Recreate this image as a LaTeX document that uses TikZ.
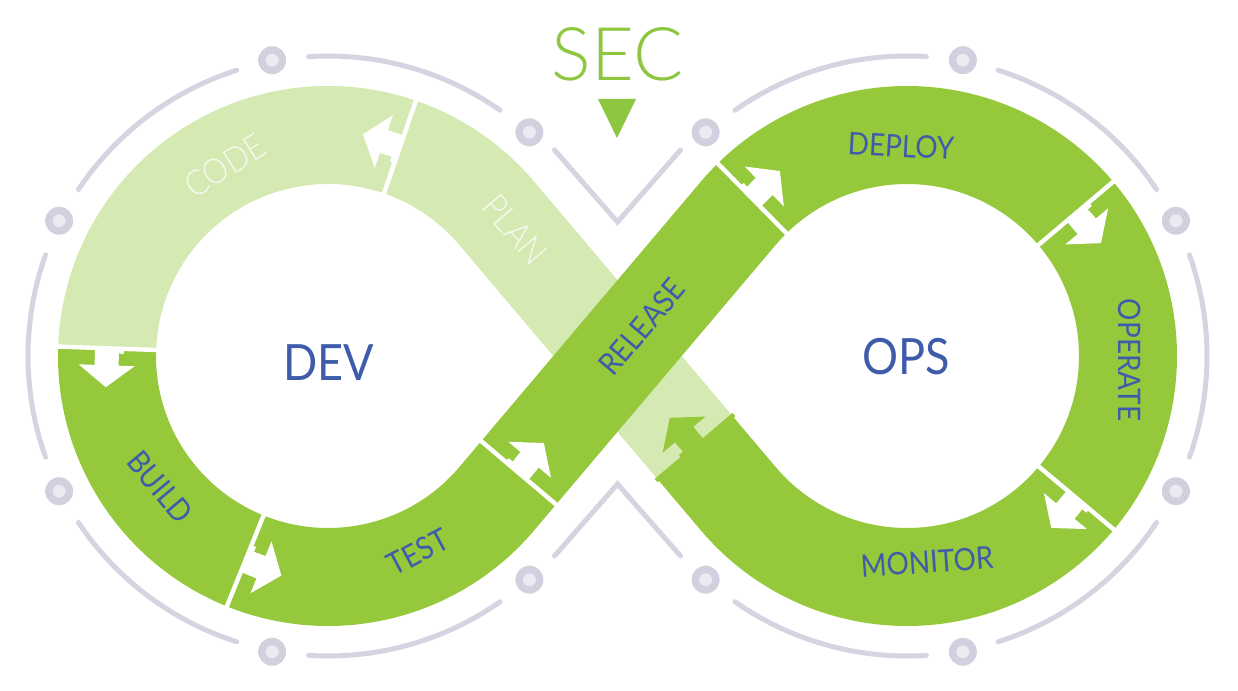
\documentclass[tikz,border=0pt]{standalone}
\usepackage{fontspec}
\newfontfamily\lblfont{Lato}[FakeStretch=0.9]
\newfontfamily\lightfont{Lato Light}
\newfontfamily\lightnarrow{Lato Light}[FakeStretch=0.9]
\definecolor{dg}{RGB}{150,200,60}
\definecolor{lg}{RGB}{213,233,178}
\definecolor{txtblue}{RGB}{62,92,170}
\definecolor{secgreen}{RGB}{141,198,63}
\definecolor{grayline}{RGB}{213,213,225}
\definecolor{dotout}{RGB}{208,208,222}
\definecolor{dotin}{RGB}{234,234,242}
\definecolor{paletxt}{RGB}{246,250,238}
\tikzset{
 band/.style={line width=98pt},
 grayarc/.style={draw=grayline, line width=5pt, line cap=round},
 bluelbl/.style={text=txtblue, inner sep=0pt, font=\lblfont\fontsize{31}{31}\selectfont},
 palelbl/.style={text=paletxt, inner sep=0pt, font=\lightnarrow\fontsize{35}{35}\selectfont},
 biglbl/.style={text=txtblue, inner sep=0pt, font=\lblfont\fontsize{50}{50}\selectfont},
 seclbl/.style={text=secgreen, inner sep=0pt, font=\lightfont\fontsize{74}{74}\selectfont},
}
% #1 position, #2 flow angle, #3 ink colour, #4 notch colour
\newcommand\flowarrow[4]{%
 \begin{scope}[shift={#1},rotate=#2]
  \fill[#3] (-2.2,-51) rectangle (2.2,51);
  \fill[#3] (0,-12) -- (17,-12) -- (17,-28) -- (39,0) -- (17,28) -- (17,12) -- (0,12) -- cycle;
  \fill[#3] (0,12) rectangle (5,17);
  \fill[#4] (5,12) rectangle (9,17);
 \end{scope}}
\begin{document}
\begin{tikzpicture}[x=1pt,y=1pt]
\fill[white] (0,0) rectangle (1238,690);
\useasboundingbox (0,0) rectangle (1238,690);

% centres and tangent points
\coordinate (CL) at (328,334);
\coordinate (CR) at (907,334);
\coordinate (TLU) at ([shift={(40.24:221)}]CL);
\coordinate (TLD) at ([shift={(-40.24:221)}]CL);
\coordinate (TRU) at ([shift={(139.76:221)}]CR);
\coordinate (TRD) at ([shift={(220.24:221)}]CR);
\coordinate (PMP) at ([shift={(130.24:67)}]TRD);
\coordinate (PTR) at ([shift={(49.76:34)}]TLD);

% grey outer rings
\foreach \a/\b in {55/93.7,107.7/146.3,160.3/199.7,213.7/252.3,266.3/305}
  \draw[grayarc] ([shift={(\a:300)}]CL) arc[start angle=\a,end angle=\b,radius=300];
\foreach \a/\b in {86.3/125,33.7/72.3,-19.7/19.7,-72.3/-33.7,-125/-86.3}
  \draw[grayarc] ([shift={(\a:300)}]CR) arc[start angle=\a,end angle=\b,radius=300];
\coordinate (VT) at (617.5,468);
\coordinate (VB) at (617.5,206);
\coordinate (VTL) at (554.5,540);
\coordinate (VTR) at (680.5,540);
\coordinate (VBL) at (554.5,134);
\coordinate (VBR) at (680.5,134);
\draw[grayarc] (VTL) -- (VT) -- (VTR);
\draw[grayarc] (VBL) -- (VB) -- (VBR);
\foreach \a in {48,100.7,153.3,206.7,259.3,312}{
  \fill[dotout] ([shift={(\a:301)}]CL) circle (14);
  \fill[dotin] ([shift={(\a:301)}]CL) circle (6.5);}
\foreach \a in {132,79.3,26.7,-26.7,-79.3,-132}{
  \fill[dotout] ([shift={(\a:301)}]CR) circle (14);
  \fill[dotin] ([shift={(\a:301)}]CR) circle (6.5);}

% bands
\draw[band,lg] (PMP) -- (TLU) arc[start angle=40.24,end angle=71,radius=221];
\draw[band,lg] ([shift={(71:221)}]CL) arc[start angle=71,end angle=178,radius=221];
\draw[band,dg] ([shift={(178:221)}]CL) arc[start angle=178,end angle=248,radius=221];
\draw[band,dg] ([shift={(248:221)}]CL) arc[start angle=248,end angle=319.76,radius=221] -- (PTR);
\draw[band,dg] (PTR) -- (TRU) arc[start angle=139.76,end angle=134.5,radius=221];
\draw[band,dg] ([shift={(134.5:221)}]CR) arc[start angle=134.5,end angle=40.2,radius=221];
\draw[band,dg] ([shift={(40.2:221)}]CR) arc[start angle=40.2,end angle=-40,radius=221];
\draw[band,dg] ([shift={(-40:221)}]CR) arc[start angle=-40,end angle=-139.76,radius=221] -- (PMP);

% boundaries with arrows
\flowarrow{(PMP)}{130.24}{dg}{lg}
\flowarrow{([shift={(71:221)}]CL)}{161}{white}{lg}
\flowarrow{([shift={(178:221)}]CL)}{268}{white}{dg}
\flowarrow{([shift={(248:221)}]CL)}{338}{white}{dg}
\flowarrow{(PTR)}{49.76}{white}{dg}
\flowarrow{([shift={(134.5:221)}]CR)}{44.5}{white}{dg}
\flowarrow{([shift={(40.2:221)}]CR)}{-49.8}{white}{dg}
\flowarrow{([shift={(-40:221)}]CR)}{-130}{white}{dg}

% labels
\node[palelbl,rotate=32] (code) at (225,524) {CODE};
\node[palelbl,rotate=-50] (plan) at (515,460) {PLAN};
\node[bluelbl,rotate=-50] (build) at (160,203) {BUILD};
\node[bluelbl,rotate=28] (test) at (418,138) {TEST};
\node[bluelbl,rotate=49.76] (release) at (642,363) {RELEASE};
\node[bluelbl,rotate=-3] (deploy) at (901,544) {DEPLOY};
\node[bluelbl,rotate=-90] (operate) at (1130,330) {OPERATE};
\node[bluelbl,rotate=4] (monitor) at (927,128) {MONITOR};
\node[biglbl] (dev) at (329,327) {DEV};
\node[biglbl] (ops) at (906,333) {OPS};
\node[seclbl] (sec) at (617.5,635.5) {SEC};
\fill[secgreen] (598,591) -- (636,591) -- (617,552) -- cycle;
\end{tikzpicture}
\end{document}
